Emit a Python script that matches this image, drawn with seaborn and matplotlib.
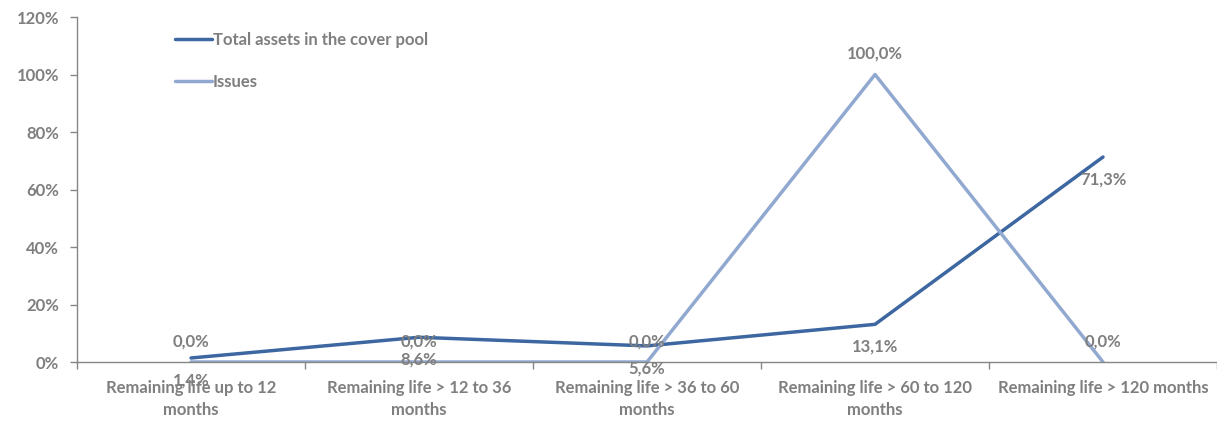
import numpy as np
import pandas as pd
import matplotlib
matplotlib.use("Agg")
import matplotlib.pyplot as plt
import seaborn as sns
from matplotlib.ticker import FixedLocator, PercentFormatter

# data
categories = [
    "Remaining life up to 12\nmonths",
    "Remaining life > 12 to 36\nmonths",
    "Remaining life > 36 to 60\nmonths",
    "Remaining life > 60 to 120\nmonths",
    "Remaining life > 120 months",
]
total_assets = [1.4, 8.6, 5.6, 13.1, 71.3]
issues = [0.0, 0.0, 0.0, 100.0, 0.0]
series_names = ["Total assets in the cover pool", "Issues"]
y_ticks = [0, 20, 40, 60, 80, 100, 120]

DARK = "#3d67a0"
LIGHT = "#91a9d0"
GREY = "#7f7f7f"
AXIS = "#868686"
FS = 12

sns.set_theme(style="white")
plt.rcParams["font.family"] = ["Lato", "DejaVu Sans"]
plt.rcParams["font.weight"] = "bold"

df = pd.DataFrame({
    "cat": categories * 2,
    "pos": list(range(len(categories))) * 2,
    "value": total_assets + issues,
    "series": [series_names[0]] * 5 + [series_names[1]] * 5,
})

fig = plt.figure(figsize=(12.17, 4.23), dpi=100)
ax = fig.add_axes([0.0633, 0.1442, 0.9367, 0.8156])

sns.lineplot(data=df, x="pos", y="value", hue="series",
             palette={series_names[0]: DARK, series_names[1]: LIGHT},
             linewidth=2.5, ax=ax, legend=True)

# data labels
lbl = dict(color=GREY, fontsize=FS, fontweight="bold", ha="center")
for i, v in enumerate(total_assets):
    ax.annotate(f"{v:.1f}%".replace(".", ","), (i, v), xytext=(0, -16),
                textcoords="offset points", va="center", **lbl)
for i, v in enumerate(issues):
    ax.annotate(f"{v:.1f}%".replace(".", ","), (i, v), xytext=(0, 15),
                textcoords="offset points", va="center", **lbl)

ax.set_xlim(-0.5, len(categories) - 0.5)
ax.set_ylim(0, 120)
ax.yaxis.set_major_locator(FixedLocator(y_ticks))
ax.yaxis.set_major_formatter(PercentFormatter(decimals=0))

ax.set_xticks(range(len(categories)))
ax.set_xticklabels(categories, linespacing=1.45)
ax.xaxis.set_minor_locator(FixedLocator(np.arange(-0.5, len(categories), 1.0)))
ax.tick_params(axis="x", which="major", length=0, pad=13, labelsize=FS,
               labelcolor=GREY)
ax.tick_params(axis="x", which="minor", length=5, color=AXIS, width=1,
               direction="out", bottom=True)
ax.tick_params(axis="y", which="major", length=5, color=AXIS, width=1,
               direction="out", left=True, labelsize=FS, labelcolor=GREY, pad=8)
for t in ax.get_xticklabels() + ax.get_yticklabels():
    t.set_fontweight("bold")

ax.set_xlabel("")
ax.set_ylabel("")
for s in ["top", "right"]:
    ax.spines[s].set_visible(False)
for s in ["left", "bottom"]:
    ax.spines[s].set_color(AXIS)
    ax.spines[s].set_linewidth(1)

leg = ax.legend(loc="upper left", bbox_to_anchor=(0.073, 1.0), frameon=False,
                handlelength=2.2, handletextpad=0.05, labelspacing=1.55,
                prop={"size": FS, "weight": "bold"})
for t in leg.get_texts():
    t.set_color(GREY)

fig.savefig("out.png", dpi=100)
